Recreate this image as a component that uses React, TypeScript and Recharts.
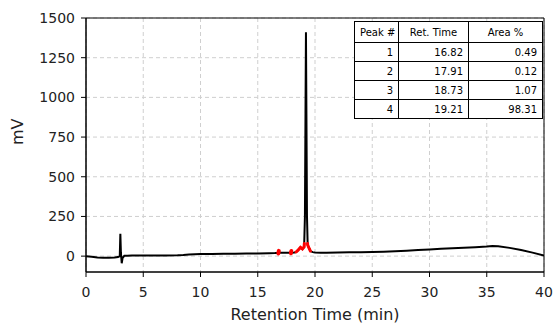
import React from "react";
import {
  LineChart,
  Line,
  XAxis,
  YAxis,
  CartesianGrid,
  ReferenceArea,
} from "recharts";

// chromatogram trace (min, mV)
const times = [
  0, 0.5, 1, 1.5, 2, 2.5, 2.8, 2.95, 3.0, 3.05, 3.12, 3.2, 3.35, 3.6, 4, 5, 6,
  7, 8, 8.5, 9, 10, 11, 12, 13, 14, 15, 16, 16.5, 16.72, 16.82, 16.92, 17.3,
  17.85, 17.91, 17.97, 18.2, 18.35, 18.5, 18.73, 18.9, 19.05, 19.12, 19.17,
  19.21, 19.25, 19.3, 19.36, 19.45, 19.6, 19.8, 20, 20.5, 21, 22, 23, 24, 25,
  26, 27, 28, 29, 30, 31, 32, 33, 34, 35, 35.5, 36, 37, 38, 39, 40,
];
const signal = [
  0, -4, -8, -10, -10, -8, -6, 0, 140, 20, -45, -10, 2, 3, 4, 4, 4, 4, 5, 7,
  10, 13, 14, 15, 15, 16, 17, 18, 19, 20, 24, 21, 21, 21, 24, 22, 23, 26, 36,
  55, 45, 58, 250, 900, 1410, 900, 250, 70, 55, 32, 25, 23, 22, 22, 23, 24,
  25, 26, 28, 31, 34, 38, 42, 46, 50, 53, 56, 60, 64, 62, 52, 38, 22, 4,
];

// integrated peak regions drawn in red
const peak1Times = [16.8, 16.82, 16.84];
const peak1Signal = [17, 25, 33];
const peak2Times = [17.89, 17.91, 17.93];
const peak2Signal = [18, 25, 32];
const peak34Times = [18.35, 18.5, 18.73, 18.9, 19.05, 19.07];
const peak34Signal = [26, 36, 55, 45, 58, 80];
const peak4TailTimes = [19.35, 19.36, 19.45, 19.6];
const peak4TailSignal = [80, 70, 55, 32];

// results table
const peakNumbers = ["1", "2", "3", "4"];
const retTimes = ["16.82", "17.91", "18.73", "19.21"];
const areaPct = ["0.49", "0.12", "1.07", "98.31"];

const xTicks = [0, 5, 10, 15, 20, 25, 30, 35, 40];
const yTicks = [0, 250, 500, 750, 1000, 1250, 1500];

const toRows = (t: number[], v: number[]) =>
  t.map((time, i) => ({ time, mv: v[i] }));

const font = "'DejaVu Sans', sans-serif";

const cell: React.CSSProperties = {
  border: "1px solid #000",
  padding: "0 5px",
  height: 18,
  textAlign: "right",
  whiteSpace: "nowrap",
};
const head: React.CSSProperties = {
  ...cell,
  fontWeight: "normal",
  textAlign: "center",
  height: 20,
};

export default function App() {
  const trace = toRows(times, signal);
  return (
    <div
      style={{
        position: "absolute",
        left: 0,
        top: 0,
        width: 558,
        height: 324,
        background: "#fff",
        fontFamily: font,
      }}
    >
      <LineChart
        width={558}
        height={324}
        margin={{ top: 18, right: 14, bottom: 0, left: 0 }}
      >
        <CartesianGrid
          stroke="#cfcfcf"
          strokeDasharray="4 3"
          horizontalValues={yTicks}
          verticalValues={xTicks}
        />
        <XAxis
          dataKey="time"
          type="number"
          domain={[0, 40]}
          ticks={xTicks}
          allowDataOverflow
          height={52}
          tickSize={5}
          tickMargin={10}
          stroke="#000"
          tick={{ fill: "#222", fontSize: 14, fontFamily: font }}
          label={{
            value: "Retention Time (min)",
            position: "insideBottom",
            offset: 4,
            fill: "#222",
            fontSize: 16,
            fontFamily: font,
          }}
        />
        <YAxis
          type="number"
          domain={[-100, 1500]}
          ticks={yTicks}
          allowDataOverflow
          width={86}
          tickSize={5}
          tickMargin={6}
          stroke="#000"
          tick={{ fill: "#222", fontSize: 14, fontFamily: font }}
          label={{
            value: "mV",
            angle: -90,
            position: "insideLeft",
            offset: 17,
            fill: "#222",
            fontSize: 16,
            fontFamily: font,
          }}
        />
        <ReferenceArea
          x1={0}
          x2={40}
          y1={-100}
          y2={1500}
          fill="none"
          stroke="#000"
          strokeWidth={1}
        />
        <Line
          data={trace}
          dataKey="mv"
          stroke="#000"
          strokeWidth={2}
          dot={false}
          isAnimationActive={false}
        />
        <Line
          data={toRows(peak1Times, peak1Signal)}
          dataKey="mv"
          stroke="#ff0000"
          strokeWidth={4}
          strokeLinecap="round"
          dot={false}
          isAnimationActive={false}
        />
        <Line
          data={toRows(peak2Times, peak2Signal)}
          dataKey="mv"
          stroke="#ff0000"
          strokeWidth={4}
          strokeLinecap="round"
          dot={false}
          isAnimationActive={false}
        />
        <Line
          data={toRows(peak34Times, peak34Signal)}
          dataKey="mv"
          stroke="#ff0000"
          strokeWidth={3}
          strokeLinecap="round"
          dot={false}
          isAnimationActive={false}
        />
        <Line
          data={toRows(peak4TailTimes, peak4TailSignal)}
          dataKey="mv"
          stroke="#ff0000"
          strokeWidth={3}
          strokeLinecap="round"
          dot={false}
          isAnimationActive={false}
        />
      </LineChart>
      <table
        style={{
          position: "absolute",
          left: 354,
          top: 21,
          width: 188,
          tableLayout: "fixed",
          borderCollapse: "collapse",
          fontSize: 10,
          fontFamily: font,
          background: "#fff",
          color: "#000",
        }}
      >
        <colgroup>
          <col style={{ width: 44 }} />
          <col style={{ width: 70 }} />
          <col style={{ width: 74 }} />
        </colgroup>
        <thead>
          <tr>
            <th style={head}>Peak #</th>
            <th style={head}>Ret. Time</th>
            <th style={head}>Area %</th>
          </tr>
        </thead>
        <tbody>
          {peakNumbers.map((p, i) => (
            <tr key={p}>
              <td style={cell}>{p}</td>
              <td style={cell}>{retTimes[i]}</td>
              <td style={cell}>{areaPct[i]}</td>
            </tr>
          ))}
        </tbody>
      </table>
    </div>
  );
}
